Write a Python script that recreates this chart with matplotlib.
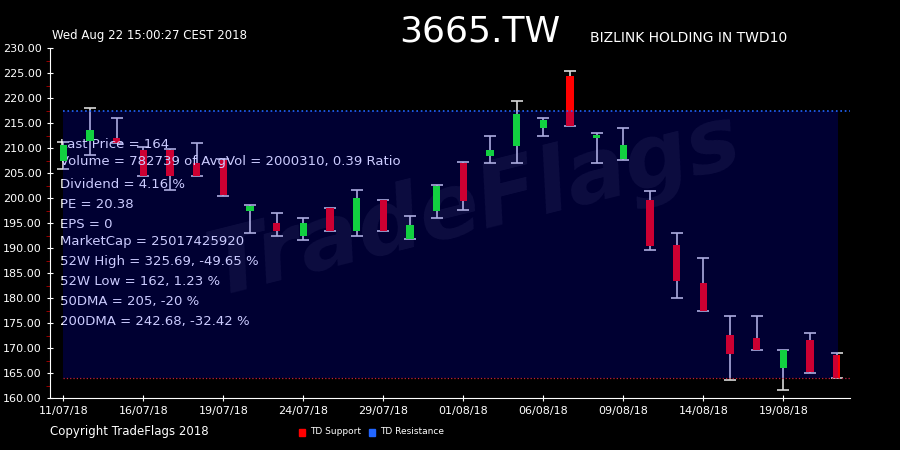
import numpy as np
import matplotlib.pyplot as plt

# daily candles
opens  = [207.4, 211.5, 212.1, 209.7, 209.6, 207.1, 207.6, 197.5, 195.1, 192.5,
          197.9, 193.5, 199.6, 191.9, 197.5, 207.1, 208.5, 210.4, 214.1, 224.3,
          212.1, 207.9, 199.6, 190.6, 183.1, 172.6, 172.1, 166.1, 171.6, 168.6]
closes = [210.6, 213.6, 211.0, 204.5, 204.5, 204.5, 200.6, 198.3, 193.5, 195.1,
          193.5, 200.1, 193.5, 194.6, 202.5, 199.4, 209.6, 216.9, 215.6, 214.5,
          212.7, 210.6, 190.5, 183.4, 177.5, 168.9, 169.6, 169.6, 165.3, 164.0]
highs  = [211.2, 218.1, 216.1, 210.2, 209.8, 211.1, 207.8, 198.6, 197.1, 196.1,
          198.1, 201.6, 199.7, 196.5, 202.6, 207.2, 212.5, 219.5, 216.1, 225.5,
          213.1, 214.1, 201.5, 193.1, 188.1, 176.5, 176.5, 169.7, 173.1, 169.1]
lows   = [205.8, 208.6, 211.0, 204.5, 201.6, 204.5, 200.4, 193.1, 192.5, 191.6,
          193.5, 192.5, 193.5, 191.9, 196.1, 197.6, 207.1, 207.1, 212.5, 214.5,
          207.1, 207.6, 189.6, 180.1, 177.5, 163.6, 169.6, 161.6, 165.1, 164.0]

date_labels = ['11/07/18', '16/07/18', '19/07/18', '24/07/18', '29/07/18',
               '01/08/18', '06/08/18', '09/08/18', '14/08/18', '19/08/18']

support = 164.0
resistance = 217.5

info_lines = ['Last Price = 164',
              'Volume = 782739 of AvgVol = 2000310, 0.39 Ratio',
              'Dividend = 4.16 %',
              'PE = 20.38',
              'EPS = 0',
              'MarketCap = 25017425920',
              '52W High = 325.69, -49.65 %',
              '52W Low = 162, 1.23 %',
              '50DMA = 205, -20 %',
              '200DMA = 242.68, -32.42 %']
info_y = [145, 161, 184, 204, 224, 241, 261, 281, 301, 322]

W, H = 900, 450
fig = plt.figure(figsize=(9, 4.5), dpi=100, facecolor='black')
ax = fig.add_axes([50 / W, 1 - 398 / H, 800 / W, 350 / H], facecolor='black')

x = np.arange(len(opens))
o = np.array(opens); c = np.array(closes)
up = c >= o
bottoms = np.minimum(o, c)
heights = np.abs(c - o)

mid = (np.array(highs) + np.array(lows)) / 2
ax.errorbar(x, mid, yerr=[mid - np.array(lows), np.array(highs) - mid], fmt='none',
            ecolor='#d8d8d8', elinewidth=1.2, capsize=4, capthick=1.2, zorder=2)
# red bodies sit under the band (they turn crimson), green ones on top
ax.bar(x[~up], heights[~up], bottom=bottoms[~up], width=0.27, color='#ff0000', zorder=3)
ax.bar(x[up], heights[up], bottom=bottoms[up], width=0.27, color='#12d040', zorder=7)

# watermark and info text, under the blue band
ax.text(0.53, 0.55, 'TradeFlags', transform=ax.transAxes, fontsize=64,
        fontweight='bold', fontstyle='italic', rotation=14, color='white',
        alpha=0.07, ha='center', va='center', zorder=1)
for t, yy in zip(info_lines, info_y):
    ax.text(60 / W, 1 - yy / H, t, transform=fig.transFigure, fontsize=9.5,
            color='white', va='center', ha='left', zorder=4)

ax.hlines(support, 0, 29.5, colors='#c02040', linestyles=':', lw=0.9, zorder=4)
ax.fill_between([0, 29.05], support, resistance, color='#0000ff', alpha=0.2,
                lw=0, zorder=5)
ax.hlines(resistance, 0, 29.5, colors='#2266ff', linestyles=':', lw=1.2, zorder=6)

ax.set_xlim(-0.5, 29.5)
ax.set_ylim(160, 230)
ax.set_yticks(np.arange(160, 231, 5))
ax.set_yticklabels(['%.2f' % v for v in np.arange(160, 231, 5)])
ax.set_yticks(np.arange(162.5, 230, 5), minor=True)
ax.set_xticks(np.arange(0, 30, 3))
ax.set_xticklabels(date_labels)

for s in ['top', 'right']:
    ax.spines[s].set_visible(False)
for s in ['left', 'bottom']:
    ax.spines[s].set_color('white')
ax.tick_params(axis='both', colors='white', labelsize=8, direction='inout', length=5)
ax.tick_params(axis='y', which='minor', colors='#b00000', length=3, direction='out')

fig.text(52 / W, 1 - 36 / H, 'Wed Aug 22 15:00:27 CEST 2018', color='white',
         fontsize=8.5, va='center', ha='left')
fig.text(480 / W, 1 - 31 / H, '3665.TW', color='white', fontsize=26,
         va='center', ha='center')
fig.text(590 / W, 1 - 38 / H, 'BIZLINK HOLDING IN TWD10', color='white',
         fontsize=10, va='center', ha='left')
fig.text(50 / W, 1 - 432 / H, 'Copyright TradeFlags 2018', color='white',
         fontsize=8.5, va='center', ha='left')

# legend
fig.patches.append(plt.Rectangle((299 / W, 1 - 436 / H), 6 / W, 7 / H,
                                 transform=fig.transFigure, color='#ff0000'))
fig.text(310 / W, 1 - 432 / H, 'TD Support', color='white', fontsize=6.5,
         va='center', ha='left')
fig.patches.append(plt.Rectangle((369 / W, 1 - 436 / H), 6 / W, 7 / H,
                                 transform=fig.transFigure, color='#2266ff'))
fig.text(380 / W, 1 - 432 / H, 'TD Resistance', color='white', fontsize=6.5,
         va='center', ha='left')

fig.savefig('out.png', dpi=100, facecolor='black')
